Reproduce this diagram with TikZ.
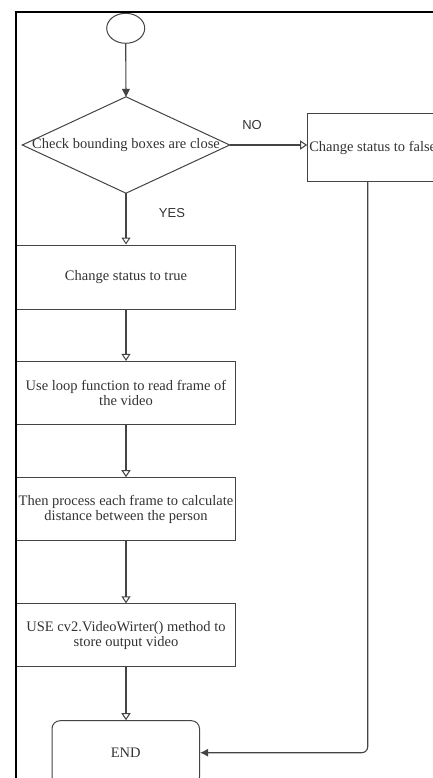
\documentclass[tikz,border=0pt]{standalone}
\usepackage{fontspec}
\setmainfont{Liberation Serif}
\newfontfamily\labelfont{Liberation Sans}
\usetikzlibrary{arrows.meta,shapes.geometric}
\definecolor{ln}{HTML}{444444}
\definecolor{tx}{HTML}{333333}
\begin{document}
\begin{tikzpicture}[x=1pt,y=-1pt,
  txt/.style={text=tx, font=\fontsize{14.5}{14.5}\selectfont},
  procbox/.style={txt, draw=ln, line width=1pt, rectangle, minimum width=219pt, minimum height=63pt, inner sep=1pt, align=center},
  flow/.style={draw=ln, line width=1.1pt, -{Triangle[open,length=7pt,width=9pt,line width=1pt]}},
  solidflow/.style={draw=ln, line width=1.1pt, -{Triangle[length=8pt,width=8pt]}},
  lbl/.style={text=tx, font=\labelfont\fontsize{13}{13}\selectfont},
]
\useasboundingbox (0,0) rectangle (433,778);
\clip (0,0) rectangle (433,778);
\fill[white] (0,0) rectangle (433,778);

% start
\node[draw=ln, line width=1pt, ellipse, minimum width=38pt, minimum height=30pt, inner sep=0pt] (start) at (125.7,28.3) {};

% decision
\node[txt, rectangle, minimum width=207pt, minimum height=96pt, inner sep=0pt] (dec) at (126,145) {Check bounding boxes are close};
\draw[ln, line width=1pt] (dec.north) -- (dec.east) -- (dec.south) -- (dec.west) -- cycle;

% false box
\node[procbox, minimum width=130pt, minimum height=67.7pt] (false) at (372.7,147.85) {Change status to false};

% main boxes
\node[procbox, minimum height=64pt] (b1) at (126,277) {Change status to true};
\node[procbox] (b2) at (126,392.9) {Use loop function to read frame of\\the video};
\node[procbox] (b3) at (126,509.2) {Then process each frame to calculate\\distance between the person};
\node[procbox] (b4) at (126,635.3) {USE cv2.VideoWirter() method to\\store output video};
\node[txt, draw=ln, line width=1pt, rounded corners=8pt, minimum width=147.5pt, minimum height=64pt] (end) at (125.75,752.7) {END};

% labels
\node[lbl] (no) at (252,125) {NO};
\node[lbl] (yes) at (172,213) {YES};

% connectors
\draw[solidflow] (start.south) -- (dec.north);
\draw[flow] (dec.east) -- (dec.east -| false.west);
\draw[flow] (dec.south) -- (b1.north);
\draw[flow] (b1.south) -- (b2.north);
\draw[flow] (b2.south) -- (b3.north);
\draw[flow] (b3.south) -- (b4.north);
\draw[flow] (b4.south) -- (b4.south |- end.north);
\draw[draw=ln, line width=1.1pt, rounded corners=6pt, -{Latex[length=8pt,width=8pt]}] ([xshift=-5pt]false.south) |- (end.east);

% frame
\draw[black, line width=2pt] (16,778) -- (16,12) -- (433,12);
\end{tikzpicture}
\end{document}
